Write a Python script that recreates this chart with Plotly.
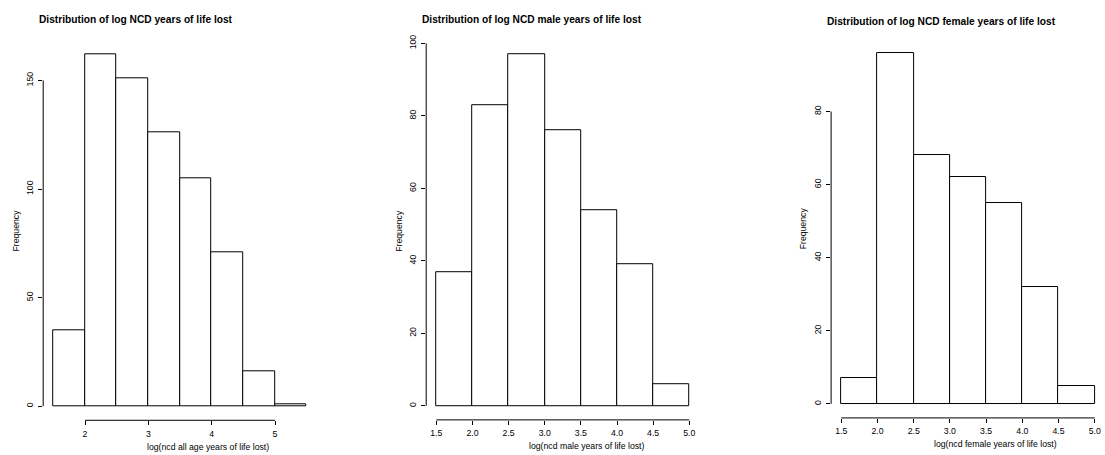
import plotly.graph_objects as go

# ---------------- data ----------------
edges_all = [1.5, 2.0, 2.5, 3.0, 3.5, 4.0, 4.5, 5.0, 5.5]
counts_all = [35, 162, 151, 126, 105, 71, 16, 1]
xticks_all = [2, 3, 4, 5]
yticks_all = [0, 50, 100, 150]

edges_male = [1.5, 2.0, 2.5, 3.0, 3.5, 4.0, 4.5, 5.0]
counts_male = [37, 83, 97, 76, 54, 39, 6]
xticks_male = [1.5, 2.0, 2.5, 3.0, 3.5, 4.0, 4.5, 5.0]
yticks_male = [0, 20, 40, 60, 80, 100]

edges_female = [1.5, 2.0, 2.5, 3.0, 3.5, 4.0, 4.5, 5.0]
counts_female = [7, 96, 68, 62, 55, 32, 5]
xticks_female = [1.5, 2.0, 2.5, 3.0, 3.5, 4.0, 4.5, 5.0]
yticks_female = [0, 20, 40, 60, 80]

titles = ["Distribution of log NCD years of life lost",
          "Distribution of log NCD male years of life lost",
          "Distribution of log NCD female years of life lost"]
xlabels = ["log(ncd all age years of life lost)",
           "log(ncd male years of life lost)",
           "log(ncd female years of life lost)"]
ylabel = "Frequency"

# ---------------- layout geometry (pixels) ----------------
W, H = 1105, 455
panels = [
    dict(edges=edges_all, counts=counts_all, xt=xticks_all, yt=yticks_all,
         xfmt="{:g}", px=(43.2, 316.8), py=(35.7, 419.9),
         title_c=(135.5, 15), xlab_c=(207.7, 446.5), ylab_c=(16, 228)),
    dict(edges=edges_male, counts=counts_male, xt=xticks_male, yt=yticks_male,
         xfmt="{:.1f}", px=(426.2, 699.4), py=(35.6, 419.5),
         title_c=(531.7, 15), xlab_c=(586.7, 446), ylab_c=(399.3, 228)),
    dict(edges=edges_female, counts=counts_female, xt=xticks_female, yt=yticks_female,
         xfmt="{:.1f}", px=(831.1, 1104.9), py=(34.4, 417.5),
         title_c=(941.7, 17), xlab_c=(995.8, 444.3), ylab_c=(803.3, 225.5)),
]

FONT = "Liberation Sans, Arial, Helvetica, sans-serif"
fig = go.Figure()
annotations = []
shapes = []
layout_axes = {}

for i, p in enumerate(panels):
    n = i + 1
    xa = "x" if n == 1 else f"x{n}"
    ya = "y" if n == 1 else f"y{n}"
    edges, counts = p["edges"], p["counts"]
    centers = [(edges[k] + edges[k + 1]) / 2 for k in range(len(counts))]
    widths = [edges[k + 1] - edges[k] for k in range(len(counts))]
    fig.add_trace(go.Bar(
        x=centers, y=counts, width=widths, xaxis=xa, yaxis=ya,
        marker=dict(color="white", line=dict(color="black", width=1)),
        showlegend=False, hoverinfo="x+y"))

    x0, x1 = edges[0], edges[-1]
    dx = (x1 - x0) * 0.04
    y1 = max(counts)
    dy = y1 * 0.04

    layout_axes["xaxis" if n == 1 else f"xaxis{n}"] = dict(
        domain=[p["px"][0] / W, p["px"][1] / W],
        range=[x0 - dx, x1 + dx], anchor=ya,
        showgrid=False, zeroline=False, showline=False,
        tickmode="array", tickvals=p["xt"], ticktext=[p["xfmt"].format(v) for v in p["xt"]],
        ticks="outside", ticklen=4, tickwidth=1, tickcolor="black",
        tickfont=dict(family=FONT, size=8.7, color="black"), ticklabelstandoff=1)
    layout_axes["yaxis" if n == 1 else f"yaxis{n}"] = dict(
        domain=[1 - p["py"][1] / H, 1 - p["py"][0] / H],
        range=[-dy, y1 + dy], anchor=xa,
        showgrid=False, zeroline=False, showline=False,
        tickmode="array", tickvals=p["yt"], ticktext=[str(v) for v in p["yt"]],
        ticks="outside", ticklen=4, tickwidth=1, tickcolor="black", tickangle=-90,
        tickfont=dict(family=FONT, size=8.7, color="black"), ticklabelstandoff=2)

    # R-style axis lines spanning only the tick range
    shapes.append(dict(type="line", xref=xa, yref=f"{ya} domain",
                       x0=min(p["xt"]), x1=max(p["xt"]), y0=0, y1=0,
                       line=dict(color="black", width=1)))
    shapes.append(dict(type="line", xref=f"{xa} domain", yref=ya,
                       x0=0, x1=0, y0=min(p["yt"]), y1=max(p["yt"]),
                       line=dict(color="black", width=1)))

    annotations.append(dict(text=f"<b>{titles[i]}</b>", xref="paper", yref="paper",
                            x=p["title_c"][0] / W, y=1 - p["title_c"][1] / H,
                            xanchor="center", yanchor="middle", showarrow=False,
                            font=dict(family=FONT, size=10.2, color="black")))
    annotations.append(dict(text=xlabels[i], xref="paper", yref="paper",
                            x=p["xlab_c"][0] / W, y=1 - p["xlab_c"][1] / H,
                            xanchor="center", yanchor="middle", showarrow=False,
                            font=dict(family=FONT, size=8.7, color="black")))
    annotations.append(dict(text=ylabel, xref="paper", yref="paper",
                            x=p["ylab_c"][0] / W, y=1 - p["ylab_c"][1] / H,
                            xanchor="center", yanchor="middle", showarrow=False, textangle=-90,
                            font=dict(family=FONT, size=8.7, color="black")))

fig.update_layout(
    width=W, height=H, margin=dict(l=0, r=0, t=0, b=0),
    paper_bgcolor="white", plot_bgcolor="white",
    bargap=0, annotations=annotations, shapes=shapes, **layout_axes)

fig.write_html("out.html")
